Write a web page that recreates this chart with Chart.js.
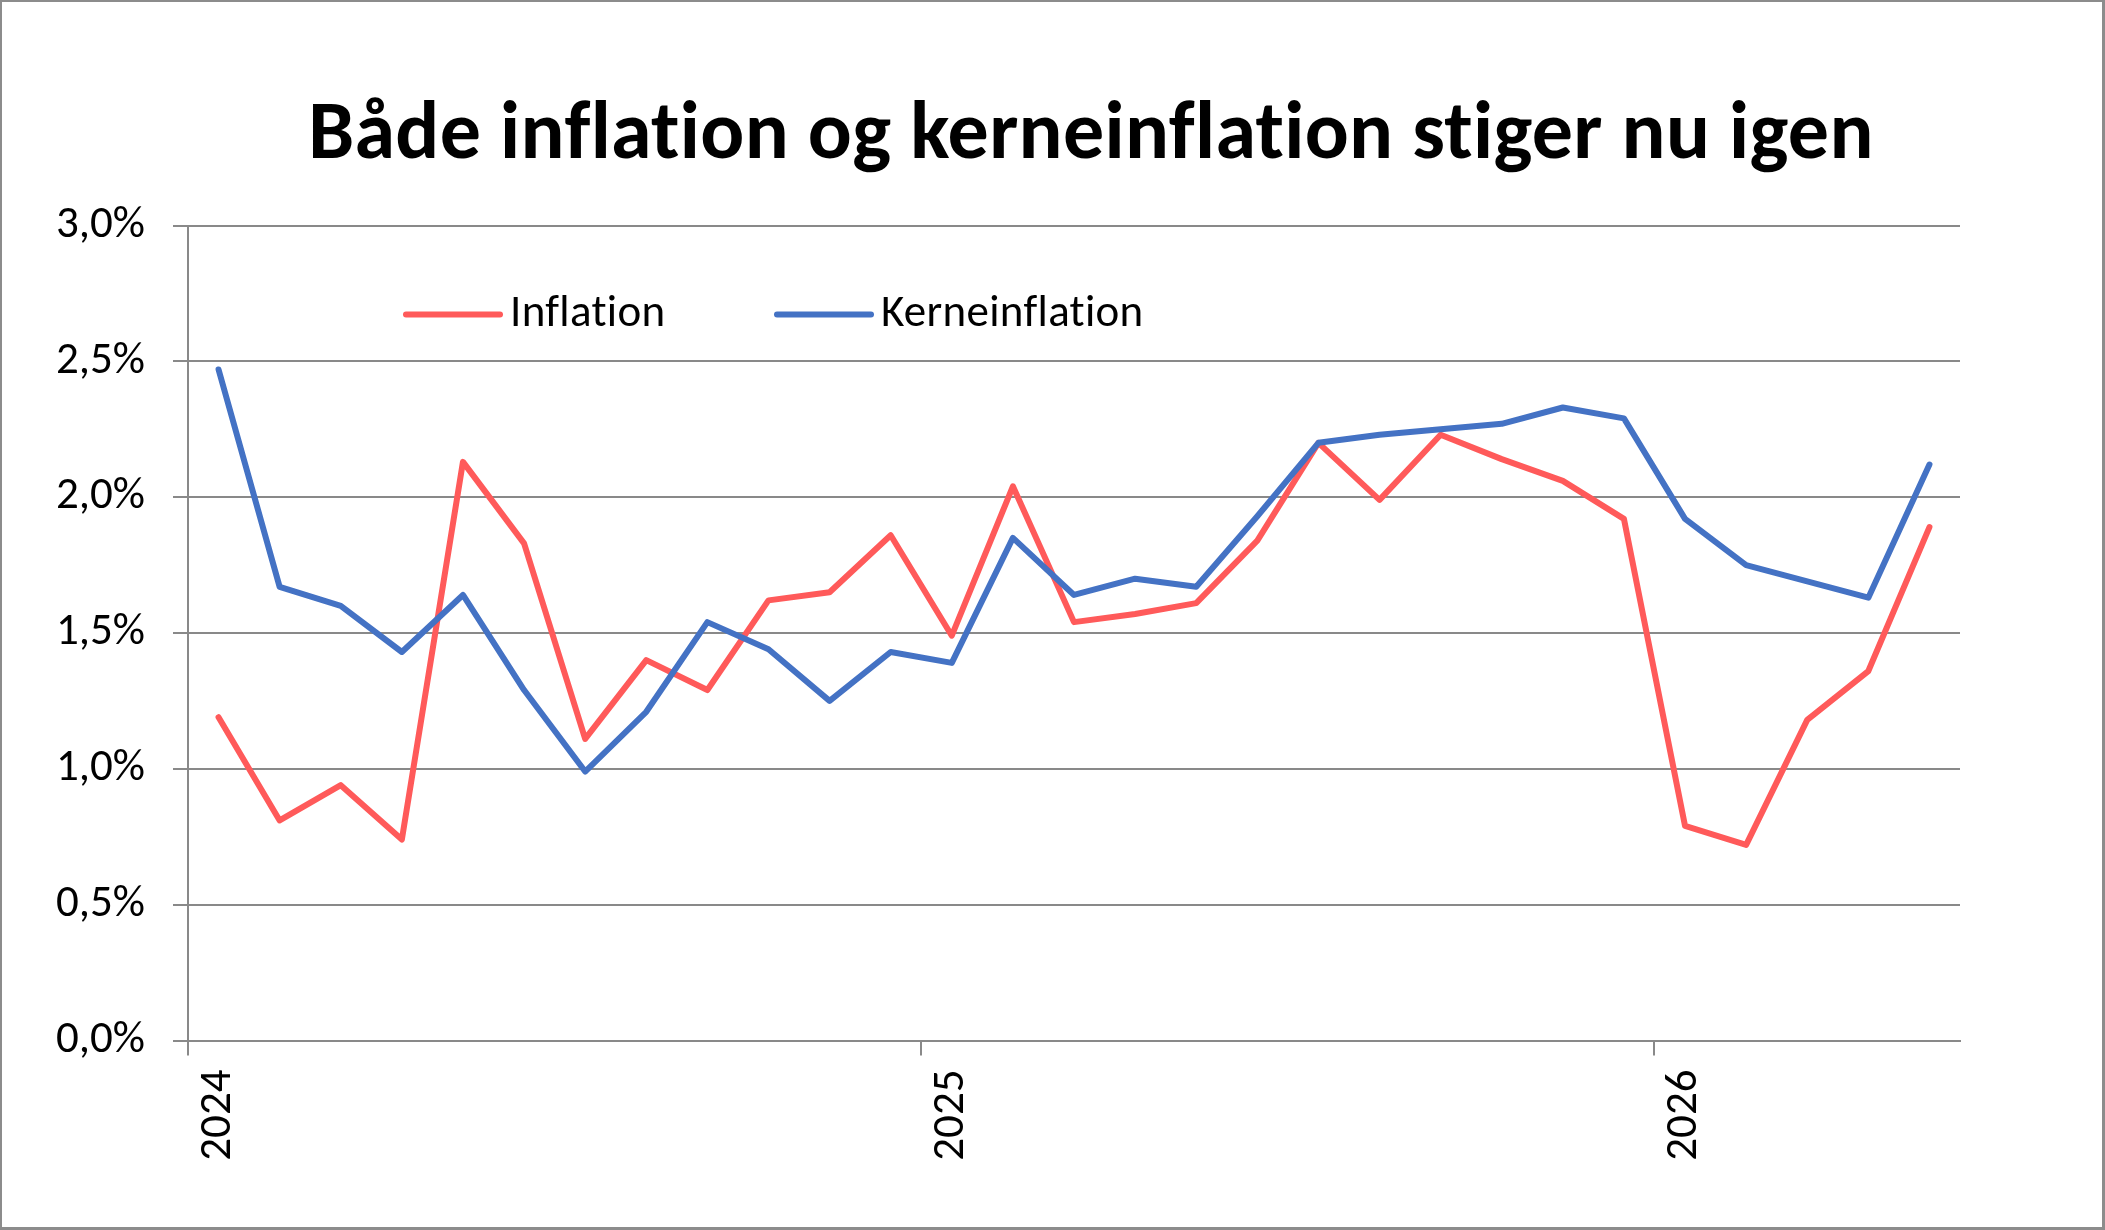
<!DOCTYPE html>
<html lang="da">
<head>
    <meta charset="UTF-8">
    <title>Både inflation og kerneinflation stiger nu igen</title>
    <script src="https://cdn.jsdelivr.net/npm/chart.js"></script>
    <style>
        body {
            margin: 0;
            background: #fff;
        }
        .wrap {
            width: 2105px;
            height: 1230px;
        }
    </style>
</head>
<body>
    <div class="wrap">
        <canvas id="inflChart" width="2105" height="1230"></canvas>
    </div>

    <script>
        // Months Jan 2024 - May 2026
        const months = [
            '2024-01', '2024-02', '2024-03', '2024-04', '2024-05', '2024-06',
            '2024-07', '2024-08', '2024-09', '2024-10', '2024-11', '2024-12',
            '2025-01', '2025-02', '2025-03', '2025-04', '2025-05', '2025-06',
            '2025-07', '2025-08', '2025-09', '2025-10', '2025-11', '2025-12',
            '2026-01', '2026-02', '2026-03', '2026-04', '2026-05'
        ];

        // values in percent
        const inflation = [1.19, 0.81, 0.94, 0.74, 2.13, 1.83, 1.11, 1.40, 1.29, 1.62, 1.65, 1.86,
                           1.49, 2.04, 1.54, 1.57, 1.61, 1.84, 2.20, 1.99, 2.23, 2.14, 2.06, 1.92,
                           0.79, 0.72, 1.18, 1.36, 1.89];
        const kerneinflation = [2.47, 1.67, 1.60, 1.43, 1.64, 1.29, 0.99, 1.21, 1.54, 1.44, 1.25, 1.43,
                                1.39, 1.85, 1.64, 1.70, 1.67, 1.93, 2.20, 2.23, 2.25, 2.27, 2.33, 2.29,
                                1.92, 1.75, 1.69, 1.63, 2.12];

        const yTicks = [0, 0.5, 1.0, 1.5, 2.0, 2.5, 3.0];

        const titleText = 'Både inflation og kerneinflation stiger nu igen';

        const gray = '#898989';
        const fontFamily = 'Carlito, Calibri, Lato, sans-serif';

        Chart.defaults.font.family = fontFamily;
        Chart.defaults.color = '#000';

        // white background, title and frame around the whole picture
        const frame = {
            id: 'frame',
            beforeDraw(chart, args, opts) {
                const c = chart.ctx;
                c.save();
                c.fillStyle = '#fff';
                c.fillRect(0, 0, chart.width, chart.height);
                c.fillStyle = '#000';
                c.font = 'bold ' + opts.titleSize + 'px ' + fontFamily;
                c.letterSpacing = '0.3px'; // keeps "fl" from turning into a ligature
                c.textAlign = 'center';
                c.textBaseline = 'alphabetic';
                c.fillText(titleText, opts.titleX, opts.titleY);
                c.restore();
            },
            afterDraw(chart) {
                const c = chart.ctx;
                c.save();
                c.fillStyle = '#8c8c8c';
                c.fillRect(0, 0, chart.width, 2);
                c.fillRect(0, 0, 2, chart.height);
                c.fillRect(chart.width - 3, 0, 3, chart.height);
                c.fillRect(0, chart.height - 3, chart.width, 3);
                c.restore();
            }
        };

        // legend drawn inside the plot area
        const inlineLegend = {
            id: 'inlineLegend',
            afterDatasetsDraw(chart, args, opts) {
                const c = chart.ctx;
                const area = chart.chartArea;
                const y = area.top + opts.y;
                c.save();
                chart.data.datasets.forEach((ds, i) => {
                    const x = area.left + opts.x[i];
                    c.strokeStyle = ds.borderColor;
                    c.lineWidth = ds.borderWidth;
                    c.lineCap = 'round';
                    c.beginPath();
                    c.moveTo(x, y);
                    c.lineTo(x + opts.lineLen, y);
                    c.stroke();
                    c.fillStyle = '#000';
                    c.font = opts.font;
                    c.letterSpacing = '0.3px';
                    c.textBaseline = 'middle';
                    c.fillText(ds.label, x + opts.lineLen + 10, y);
                });
                c.restore();
            }
        };

        new Chart(document.getElementById('inflChart'), {
            type: 'line',
            data: {
                labels: months,
                datasets: [{
                    label: 'Inflation',
                    data: inflation,
                    borderColor: '#ff5a5a',
                    borderWidth: 6,
                    pointRadius: 0,
                    borderCapStyle: 'round',
                    borderJoinStyle: 'round',
                    tension: 0,
                    order: 2
                }, {
                    label: 'Kerneinflation',
                    data: kerneinflation,
                    borderColor: '#4472c4',
                    borderWidth: 6,
                    pointRadius: 0,
                    borderCapStyle: 'round',
                    borderJoinStyle: 'round',
                    tension: 0,
                    order: 1
                }]
            },
            options: {
                responsive: false,
                animation: false,
                devicePixelRatio: 1,
                layout: {
                    padding: { left: 10, right: 145, top: 225.5, bottom: 0 }
                },
                plugins: {
                    legend: { display: false },
                    tooltip: { enabled: false },
                    title: { display: false },
                    frame: {
                        titleSize: 82,
                        titleX: 1091,
                        titleY: 158
                    },
                    inlineLegend: {
                        x: [218, 589],
                        y: 89,
                        lineLen: 94,
                        font: '45px ' + fontFamily
                    }
                },
                scales: {
                    x: {
                        offset: true,
                        afterFit(scale) { scale.height = 189.5; },
                        grid: {
                            offset: true,
                            drawOnChartArea: false,
                            drawTicks: true,
                            tickLength: 15,
                            lineWidth: 2,
                            color: ctx => {
                                const m = months[ctx.index];
                                return m && m.endsWith('-01') ? gray : 'rgba(0,0,0,0)';
                            }
                        },
                        border: { display: true, color: gray, width: 2 },
                        ticks: {
                            autoSkip: false,
                            maxRotation: 90,
                            minRotation: 90,
                            padding: 14,
                            font: { size: 45 },
                            callback: (v, i) => months[i].endsWith('-01') ? months[i].slice(0, 4) : ''
                        }
                    },
                    y: {
                        min: 0,
                        max: 3,
                        afterFit(scale) { scale.width = 178; },
                        afterBuildTicks(scale) {
                            scale.ticks = yTicks.map(v => ({ value: v }));
                        },
                        grid: {
                            color: gray,
                            lineWidth: 2,
                            drawTicks: true,
                            tickLength: 15
                        },
                        border: { display: true, color: gray, width: 2 },
                        ticks: {
                            padding: 28,
                            font: { size: 45 },
                            callback: v => v.toFixed(1).replace('.', ',') + '%'
                        }
                    }
                }
            },
            plugins: [frame, inlineLegend]
        });
    </script>
</body>
</html>
